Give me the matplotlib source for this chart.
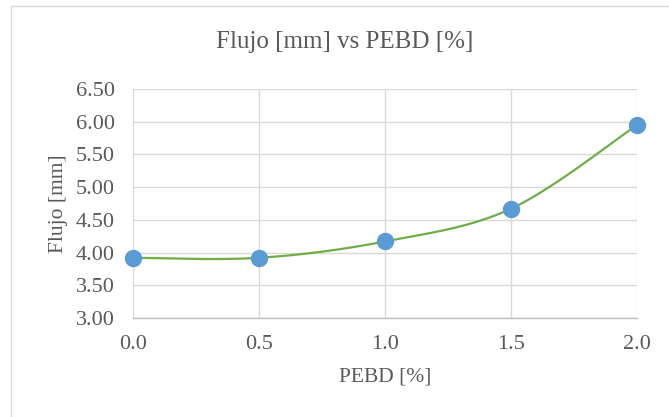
import numpy as np
import matplotlib
matplotlib.use("Agg")
import matplotlib.pyplot as plt
from matplotlib.patches import Rectangle

# Data
pebd = [0.0, 0.5, 1.0, 1.5, 2.0]
flujo = [3.92, 3.92, 4.17, 4.67, 5.95]
x_ticks = [0.0, 0.5, 1.0, 1.5, 2.0]
y_ticks = [3.00, 3.50, 4.00, 4.50, 5.00, 5.50, 6.00, 6.50]

title = "Flujo [mm] vs PEBD [%]"
x_label = "PEBD [%]"
y_label = "Flujo [mm]"


def smooth_curve(xs, ys, n=40):
    """Catmull-Rom style Bezier smoothing through every point."""
    xs = np.asarray(xs, float)
    ys = np.asarray(ys, float)
    px = np.concatenate([[xs[0]], xs, [xs[-1]]])
    py = np.concatenate([[ys[0]], ys, [ys[-1]]])
    out_x, out_y = [], []
    t = np.linspace(0, 1, n)
    for i in range(1, len(px) - 2):
        p0 = np.array([px[i], py[i]])
        p3 = np.array([px[i + 1], py[i + 1]])
        p1 = p0 + (np.array([px[i + 1], py[i + 1]]) - np.array([px[i - 1], py[i - 1]])) / 6
        p2 = p3 - (np.array([px[i + 2], py[i + 2]]) - np.array([px[i], py[i]])) / 6
        b = ((1 - t) ** 3)[:, None] * p0 + (3 * (1 - t) ** 2 * t)[:, None] * p1 \
            + (3 * (1 - t) * t ** 2)[:, None] * p2 + (t ** 3)[:, None] * p3
        out_x.extend(b[:, 0])
        out_y.extend(b[:, 1])
    return np.array(out_x), np.array(out_y)


plt.rcParams["font.family"] = ["Liberation Serif", "DejaVu Serif"]

fig = plt.figure(figsize=(6.69, 4.17), dpi=100)
fig.patch.set_facecolor("white")

# chart frame
fig.patches.append(Rectangle((10.5 / 669, -0.1), 1.1, 1.1 - 6 / 417,
                             transform=fig.transFigure, fill=False,
                             edgecolor="#d9d9d9", linewidth=1.0))

ax = fig.add_axes([133 / 669, 1 - 318 / 417, (637 - 133) / 669, (318 - 89) / 417])

sx, sy = smooth_curve(pebd, flujo)
ax.plot(sx, sy, color="#70ad47", linewidth=1.6, zorder=3, solid_capstyle="round")
ax.plot(pebd, flujo, linestyle="none", marker="o", markersize=11.5,
        markerfacecolor="#5b9bd5", markeredgecolor="#5b9bd5", zorder=4, clip_on=False)

ax.set_xlim(0, 2.0)
ax.set_ylim(3.0, 6.5)
ax.set_xticks(x_ticks)
ax.set_xticklabels([f"{v:.1f}" for v in x_ticks])
ax.set_yticks(y_ticks)
ax.set_yticklabels([f"{v:.2f}" for v in y_ticks])

ax.grid(True, color="#d9d9d9", linewidth=1.0)
ax.set_axisbelow(True)
for side in ["top", "right"]:
    ax.spines[side].set_visible(False)
ax.spines["left"].set_visible(False)
ax.spines["bottom"].set_color("#bfbfbf")
ax.spines["bottom"].set_linewidth(1.0)

ax.tick_params(axis="both", length=0, labelsize=16, colors="#595959")
ax.tick_params(axis="y", pad=13)
ax.tick_params(axis="x", pad=12)

ax.set_xlabel(x_label, fontsize=15.5, color="#595959", labelpad=10)
ax.set_ylabel(y_label, fontsize=15.5, color="#595959", labelpad=6)
fig.text(345 / 669, 1 - 42 / 417, title, ha="center", va="center",
         fontsize=18, color="#595959")

fig.savefig("out.png", dpi=100)
